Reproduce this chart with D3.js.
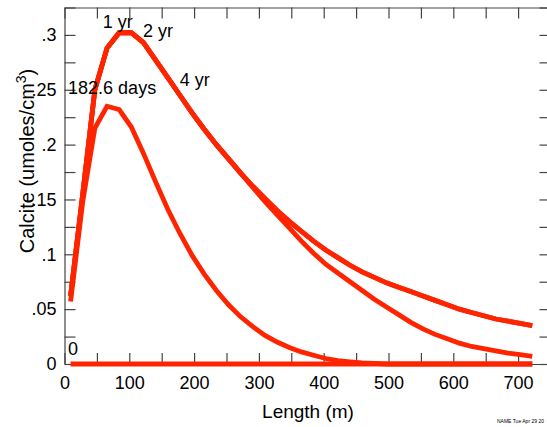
<!DOCTYPE html>
<html>
<head>
<meta charset="utf-8">
<script src="https://cdn.jsdelivr.net/npm/d3@7"></script>
<style>
  html, body { margin: 0; padding: 0; background: #fff; }
  svg { display: block; font-family: "Liberation Sans", Arial, sans-serif; }
</style>
</head>
<body>
<svg id="chart" width="547" height="427"></svg>
<script>
// Cell-centre distances along the column (m)
const lengths = [9.375, 28.125, 46.875, 65.625, 84.375, 103.125, 121.875, 140.625, 159.375,
  178.125, 196.875, 215.625, 234.375, 253.125, 271.875, 290.625, 309.375, 328.125, 346.875,
  365.625, 384.375, 403.125, 421.875, 440.625, 459.375, 478.125, 496.875, 515.625, 534.375,
  553.125, 571.875, 590.625, 609.375, 628.125, 646.875, 665.625, 684.375, 703.125, 721.875];

// Calcite profiles (umoles/cm3) at each time
const calcite0 = [0, 0, 0, 0, 0, 0, 0, 0, 0, 0, 0, 0, 0, 0, 0, 0, 0, 0, 0, 0,
  0, 0, 0, 0, 0, 0, 0, 0, 0, 0, 0, 0, 0, 0, 0, 0, 0, 0, 0];
const calcite182 = [0.057, 0.148, 0.215, 0.235, 0.232, 0.216, 0.192, 0.166, 0.141, 0.119,
  0.099, 0.082, 0.067, 0.054, 0.043, 0.034, 0.026, 0.020, 0.015, 0.011,
  0.008, 0.005, 0.003, 0.002, 0.001, 0.0005, 0, 0, 0, 0, 0, 0, 0, 0, 0, 0, 0, 0, 0];
const calcite1yr = [0.062, 0.155, 0.250, 0.288, 0.302, 0.302, 0.293, 0.277, 0.261, 0.245,
  0.229, 0.214, 0.200, 0.187, 0.174, 0.161, 0.148, 0.136, 0.124, 0.112,
  0.101, 0.091, 0.083, 0.075, 0.067, 0.059, 0.052, 0.045, 0.038, 0.032,
  0.027, 0.023, 0.019, 0.016, 0.014, 0.012, 0.010, 0.0085, 0.007];
const calcite2yr = [0.062, 0.155, 0.250, 0.288, 0.302, 0.302, 0.293, 0.277, 0.261, 0.245,
  0.229, 0.214, 0.200, 0.187, 0.174, 0.162, 0.151, 0.140, 0.130, 0.121,
  0.112, 0.104, 0.097, 0.090, 0.084, 0.079, 0.074, 0.070, 0.066, 0.062,
  0.058, 0.054, 0.050, 0.047, 0.044, 0.041, 0.039, 0.037, 0.035];
const calcite4yr = [0.062, 0.155, 0.250, 0.288, 0.302, 0.302, 0.293, 0.277, 0.261, 0.245,
  0.229, 0.214, 0.200, 0.187, 0.174, 0.162, 0.151, 0.140, 0.130, 0.121,
  0.112, 0.104, 0.097, 0.090, 0.084, 0.079, 0.074, 0.070, 0.066, 0.062,
  0.058, 0.054, 0.050, 0.047, 0.044, 0.041, 0.039, 0.037, 0.035];

const seriesList = [calcite0, calcite182, calcite1yr, calcite2yr, calcite4yr];

// Tick values
const xTicks = [0, 50, 100, 150, 200, 250, 300, 350, 400, 450, 500, 550, 600, 650, 700, 750];
const xTickLabels = ["0", "", "100", "", "200", "", "300", "", "400", "", "500", "", "600", "", "700", ""];
const yTicks = [0, 0.025, 0.05, 0.075, 0.1, 0.125, 0.15, 0.175, 0.2, 0.225, 0.25, 0.275, 0.3, 0.325];
const yTickLabels = ["0", "", ".05", "", ".1", "", ".15", "", ".2", "", ".25", "", ".3", ""];

// Curve annotations: text and the (length, calcite) point where each sits
const curveLabels = ["1 yr", "2 yr", "4 yr", "182.6 days", "0"];
const labelLength = [59, 121, 178, 5.5, 5.5];
const labelCalcite = [0.306, 0.298, 0.253, 0.246, 0.008];

const svg = d3.select("#chart");
const plotLeft = 64.5, plotRight = 550.5, plotTop = 7.5, plotBottom = 364;

const x = d3.scaleLinear().domain([0, 750]).range([plotLeft, plotRight]);
const y = d3.scaleLinear().domain([0, 0.325]).range([plotBottom, plotTop]);

const axisColor = "#444";
const redLine = "#ff2400";

function styleAxis(g) {
  g.selectAll("path.domain").attr("stroke", axisColor).attr("stroke-width", 1.2);
  g.selectAll(".tick line").attr("stroke", axisColor).attr("stroke-width", 1.2);
  g.selectAll(".tick text").attr("fill", "#000").attr("font-size", 18)
    .attr("font-family", "'Liberation Sans', Arial, sans-serif");
}

// Bottom axis (ticks point up into the plot)
svg.append("g").attr("transform", `translate(0,${plotBottom})`)
  .call(d3.axisBottom(x).tickValues(xTicks).tickSizeInner(-11).tickSizeOuter(0).tickPadding(12)
    .tickFormat((d, i) => xTickLabels[i]))
  .call(styleAxis);

// Top axis
svg.append("g").attr("transform", `translate(0,${plotTop})`)
  .call(d3.axisTop(x).tickValues(xTicks).tickSizeInner(-11).tickSizeOuter(0).tickFormat(""))
  .call(styleAxis);

// Left axis
svg.append("g").attr("transform", `translate(${plotLeft},0)`)
  .call(d3.axisLeft(y).tickValues(yTicks).tickSizeInner(-11).tickSizeOuter(0).tickPadding(8)
    .tickFormat((d, i) => yTickLabels[i]))
  .call(styleAxis);

// Right axis
svg.append("g").attr("transform", `translate(${plotRight},0)`)
  .call(d3.axisRight(y).tickValues(yTicks).tickSizeInner(-11).tickSizeOuter(0).tickFormat(""))
  .call(styleAxis);

// Profiles
const line = d3.line().x((d, i) => x(lengths[i])).y(d => y(d));
svg.append("g").selectAll("path.profile")
  .data(seriesList)
  .join("path")
  .attr("class", "profile")
  .attr("d", line)
  .attr("fill", "none")
  .attr("stroke", redLine)
  .attr("stroke-width", 4.8)
  .attr("stroke-linejoin", "miter");

// Curve annotations
svg.append("g").selectAll("text.curve-label")
  .data(curveLabels)
  .join("text")
  .attr("class", "curve-label")
  .attr("x", (d, i) => x(labelLength[i]))
  .attr("y", (d, i) => y(labelCalcite[i]))
  .attr("font-size", 18)
  .attr("fill", "#000")
  .text(d => d);

// Axis titles
svg.append("text")
  .attr("x", 308).attr("y", 418)
  .attr("text-anchor", "middle")
  .attr("font-size", 19)
  .text("Length (m)");

const yTitle = svg.append("text")
  .attr("transform", "translate(34,161) rotate(-90)")
  .attr("text-anchor", "middle")
  .attr("font-size", 20);
yTitle.append("tspan").text("Calcite (umoles/cm");
yTitle.append("tspan").attr("font-size", 14).attr("dy", -8).text("3");
yTitle.append("tspan").attr("dy", 8).text(")");

// Plot stamp
svg.append("text")
  .attr("x", 497).attr("y", 423)
  .attr("font-size", 5)
  .attr("fill", "#000")
  .text("NAME Tue Apr 29 20");
</script>
</body>
</html>
